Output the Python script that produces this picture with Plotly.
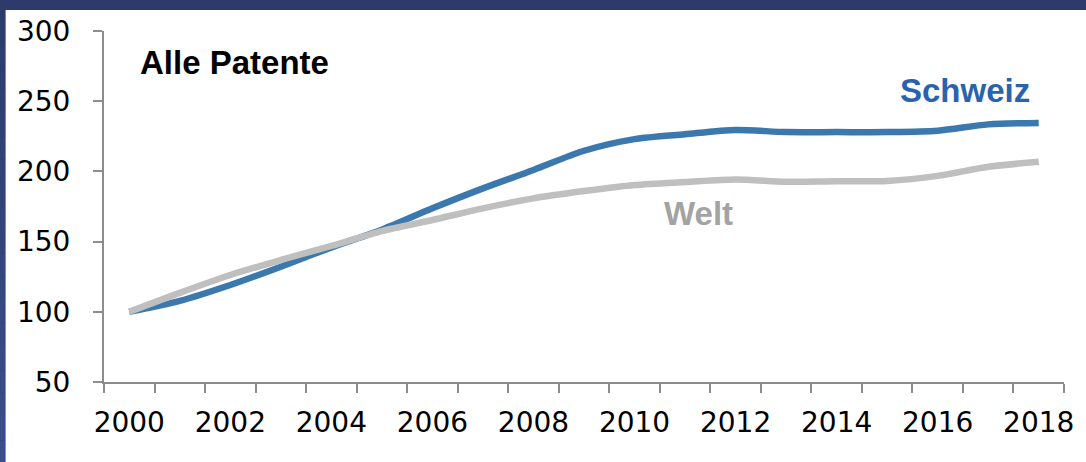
import plotly.graph_objects as go

# Patent index (2000 = 100)
years = list(range(2000, 2019))
schweiz = [100, 107.8, 119.1, 132.1, 145.9, 158.5, 173.7, 187.9, 201.0, 214.7,
           223.0, 226.5, 229.5, 228.0, 228.0, 228.0, 229.0, 233.5, 234.5]
welt = [100, 113.5, 126.2, 136.9, 146.9, 157.5, 165.4, 173.7, 180.8, 186.0,
        190.3, 192.4, 194.2, 192.7, 193.0, 193.2, 196.8, 203.3, 206.8]
label_years = list(range(2000, 2019, 2))
y_ticks = [50, 100, 150, 200, 250, 300]

BLUE = "#3a78ad"
GREY = "#bfbfbf"
AXIS = "#8c8c8c"
TICK_FONT = dict(family="DejaVu Sans", size=28, color="#000000")

fig = go.Figure()
fig.add_trace(go.Scatter(x=years, y=schweiz, mode="lines", name="Schweiz",
                         line=dict(color=BLUE, width=6.5, shape="spline", smoothing=0.8)))
fig.add_trace(go.Scatter(x=years, y=welt, mode="lines", name="Welt",
                         line=dict(color=GREY, width=6.5, shape="spline", smoothing=0.8)))

# dark frame with white panel
shapes = []
n = 24
for i in range(n):
    t = i / (n - 1)
    r = int(0x2a + (0x3b - 0x2a) * t)
    g = int(0x38 + (0x50 - 0x38) * t)
    b = int(0x64 + (0x8e - 0x64) * t)
    shapes.append(dict(type="rect", xref="paper", yref="paper", layer="below",
                       x0=-0.2, x1=1.2, y0=1.3 - 1.6 * (i + 1) / n, y1=1.3 - 1.6 * i / n,
                       line=dict(width=0), fillcolor=f"rgb({r},{g},{b})"))
shapes.append(dict(type="rect", xref="paper", yref="paper", layer="below",
                   x0=(5 - 104) / 966, x1=1.2, y0=-0.5, y1=(382 - 10) / 351,
                   line=dict(width=0), fillcolor="#ffffff"))

annotations = [
    dict(x=2000.17, y=277.6, text="<b>Alle Patente</b>", showarrow=False,
         xanchor="left", yanchor="middle",
         font=dict(family="Liberation Sans", size=33, color="#000000")),
    dict(x=2015.21, y=257.6, text="<b>Schweiz</b>", showarrow=False,
         xanchor="left", yanchor="middle",
         font=dict(family="Liberation Sans", size=33, color="#2a63ad")),
    dict(x=2010.54, y=169.7, text="<b>Welt</b>", showarrow=False,
         xanchor="left", yanchor="middle",
         font=dict(family="Liberation Sans", size=33, color="#a3a3a3")),
]

fig.update_layout(
    width=1086, height=462,
    margin=dict(l=104, r=16, t=31, b=80),
    paper_bgcolor="#2a3864", plot_bgcolor="rgba(0,0,0,0)",
    showlegend=False,
    shapes=shapes,
    annotations=annotations,
    xaxis=dict(range=[1999.5, 2018.5], tickvals=label_years,
               ticktext=[str(y) for y in label_years],
               ticks="", showgrid=False, zeroline=False,
               showline=True, linecolor=AXIS, linewidth=2,
               tickfont=TICK_FONT, ticklabelstandoff=14,
               minor=dict(tickvals=[y - 0.5 for y in years] + [2018.5],
                          ticks="outside", ticklen=9, tickwidth=2,
                          tickcolor=AXIS, showgrid=False)),
    yaxis=dict(range=[50, 300], tickvals=y_ticks,
               ticks="outside", ticklen=9, tickwidth=2, tickcolor=AXIS,
               showgrid=False, zeroline=False,
               showline=True, linecolor=AXIS, linewidth=2,
               tickfont=TICK_FONT, ticklabelstandoff=17),
)

fig.write_html("out.html")
